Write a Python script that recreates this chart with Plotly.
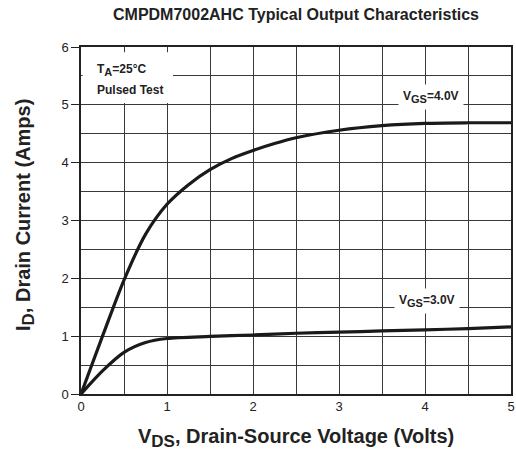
import plotly.graph_objects as go

vds_40 = [0, 0.25, 0.5, 0.75, 1.0, 1.25, 1.5, 1.75, 2.0, 2.25, 2.5, 3.0, 3.5, 4.0, 4.5, 5.0]
id_40 = [0, 1.0, 1.97, 2.76, 3.28, 3.62, 3.88, 4.07, 4.21, 4.33, 4.43, 4.56, 4.64, 4.68, 4.69, 4.69]
vds_30 = [0, 0.25, 0.5, 0.75, 1.0, 1.5, 2.0, 2.5, 3.0, 3.5, 4.0, 4.5, 5.0]
id_30 = [0, 0.4, 0.72, 0.89, 0.96, 0.995, 1.02, 1.05, 1.07, 1.09, 1.11, 1.13, 1.16]
x_ticks = [0, 1, 2, 3, 4, 5]
y_ticks = [0, 1, 2, 3, 4, 5, 6]

font_family = "Liberation Sans, Arial, sans-serif"
ink = "#222"

fig = go.Figure()
for xs, ys in [(vds_40, id_40), (vds_30, id_30)]:
    fig.add_trace(go.Scatter(x=xs, y=ys, mode="lines",
                             line=dict(color="#1a1a1a", width=3.2, shape="spline", smoothing=0.8),
                             showlegend=False, hoverinfo="skip"))

grid = dict(showgrid=True, gridcolor="#3a3a3a", gridwidth=1,
            minor=dict(dtick=0.5, showgrid=True, gridcolor="#3a3a3a", gridwidth=1))

fig.update_layout(
    width=516, height=453,
    margin=dict(l=81, r=5, t=47, b=59),
    paper_bgcolor="white", plot_bgcolor="white",
    font=dict(family=font_family, color=ink),
    xaxis=dict(range=[0, 5], tickvals=x_ticks, ticks="", showline=True, linecolor=ink,
               linewidth=1.5, mirror=True, automargin=False, zeroline=False,
               ticklabeloverflow="allow",
               tickfont=dict(size=13, color=ink), **grid),
    yaxis=dict(range=[0, 6], tickvals=y_ticks, ticks="outside", ticklen=8, tickcolor=ink,
               showline=True, linecolor=ink, linewidth=1.5, mirror=True, automargin=False,
               zeroline=False, ticklabeloverflow="allow",
               tickfont=dict(size=13, color=ink), **grid),
)

# Title and axis titles
fig.add_annotation(xref="paper", yref="paper", x=0.499, y=1.0 + 32 / 347, xanchor="center",
                   yanchor="middle", showarrow=False,
                   text="<b>CMPDM7002AHC Typical Output Characteristics</b>",
                   font=dict(size=16, color=ink))
fig.add_annotation(xref="paper", yref="paper", x=0.5, y=-44 / 347, xanchor="center",
                   yanchor="middle", showarrow=False,
                   text="<b>V<sub><span style='font-size:17px'>DS</span></sub>, Drain-Source Voltage (Volts)</b>",
                   font=dict(size=20, color=ink))
fig.add_annotation(xref="paper", yref="paper", x=-56 / 430, y=(394 - 215) / 347, xanchor="center",
                   yanchor="middle", showarrow=False, textangle=-90,
                   text="<b>I<sub><span style='font-size:17px'>D</span></sub>, Drain Current (Amps)</b>",
                   font=dict(size=20, color=ink))

# Condition box
fig.add_shape(type="rect", xref="x", yref="y", x0=0.02, x1=1.07, y0=5.03, y1=5.91,
              fillcolor="white", line=dict(width=0), layer="above")
fig.add_annotation(x=0.16, y=5.6, xref="x", yref="y", xanchor="left", yanchor="middle",
                   text="<b>T<sub><span style='font-size:11px'>A</span></sub>=25°C</b>",
                   showarrow=False, align="left", font=dict(size=12, color=ink))
fig.add_annotation(x=0.16, y=5.26, xref="x", yref="y", xanchor="left", yanchor="middle",
                   text="<b>Pulsed Test</b>",
                   showarrow=False, align="left", font=dict(size=12, color=ink))

# Curve labels
fig.add_annotation(x=4.07, y=5.13, xref="x", yref="y", xanchor="center", yanchor="middle",
                   text="<b>V<sub><span style='font-size:11px'>GS</span></sub>=4.0V</b>",
                   showarrow=False, bgcolor="white", borderpad=4, font=dict(size=12, color=ink))
fig.add_annotation(x=4.02, y=1.6, xref="x", yref="y", xanchor="center", yanchor="middle",
                   text="<b>V<sub><span style='font-size:11px'>GS</span></sub>=3.0V</b>",
                   showarrow=False, bgcolor="white", borderpad=4, font=dict(size=12, color=ink))

fig.write_html("out.html",
               config={"displayModeBar": False},
               post_script="document.body.style.margin='0';document.body.style.overflow='hidden';")
